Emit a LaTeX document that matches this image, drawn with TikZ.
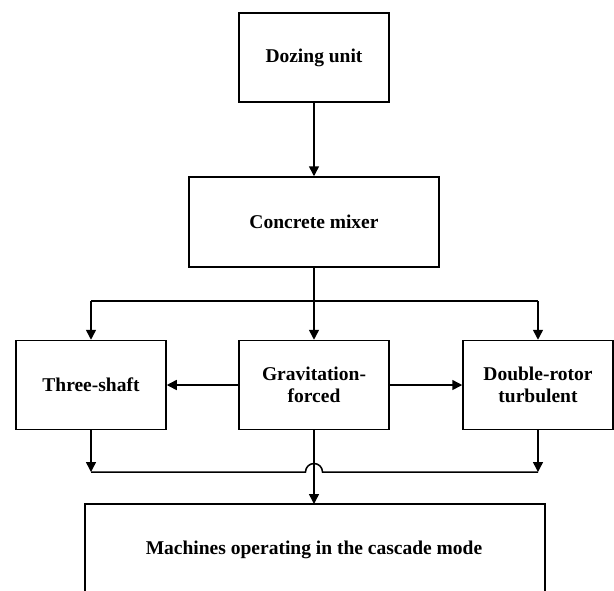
\documentclass[tikz,border=0pt]{standalone}
\usepackage{fontspec}
\setmainfont{Liberation Serif}
\usetikzlibrary{arrows.meta}
\begin{document}
\begin{tikzpicture}[x=1pt,y=-1pt,
  box/.style={draw, line width=1.5pt, minimum width=150pt, minimum height=89pt,
    align=center, font=\fontsize{19.5}{22}\selectfont\bfseries, inner sep=0pt},
  link/.style={line width=1.5pt},
  arr/.style={link, -{Triangle[length=10pt,width=10pt]}}]
\useasboundingbox (0,0) rectangle (614,590);

% blocks
\node[box] (dozing) at (314,57.5) {Dozing unit};
\node[box, minimum width=250pt, minimum height=90pt] (mixer) at (314,222) {Concrete mixer};
\node[box] (three) at (91,385) {Three-shaft};
\node[box] (grav) at (314,385) {Gravitation-\\forced};
\node[box] (double) at (538,385) {Double-rotor\\turbulent};

% open-bottomed output block
\coordinate (casctop) at (314,504);
\draw[link] (85,591) -- (85,504) -- (545,504) -- (545,591);
\node[font=\fontsize{19.5}{22}\selectfont\bfseries] (cascade) at (314,550) {Machines operating in the cascade mode};

% junction levels
\coordinate (split) at (314,301);
\coordinate (merge) at (314,472);

% dozing unit to mixer
\draw[arr] (dozing) -- (mixer);

% distribution from the mixer
\draw[link] (mixer.south) -- (split);
\draw[link] (three.north |- split) -- (double.north |- split);
\draw[arr] (three.north |- split) -- (three.north);
\draw[arr] (split) -- (grav.north);
\draw[arr] (double.north |- split) -- (double.north);

% side feeds from the gravitation-forced mixer
\draw[arr] (grav.west) -- (three.east);
\draw[arr] (grav.east) -- (double.west);

% collecting line with a hop over the central feed
\draw[arr] (three.south) -- (three.south |- merge);
\draw[arr] (double.south) -- (double.south |- merge);
\draw[link] (three.south |- merge) -- ([xshift=-8.5pt]merge) arc[start angle=180, end angle=0, radius=8.5pt] -- (double.south |- merge);
\draw[arr] (grav.south) -- (casctop);
\end{tikzpicture}
\end{document}
